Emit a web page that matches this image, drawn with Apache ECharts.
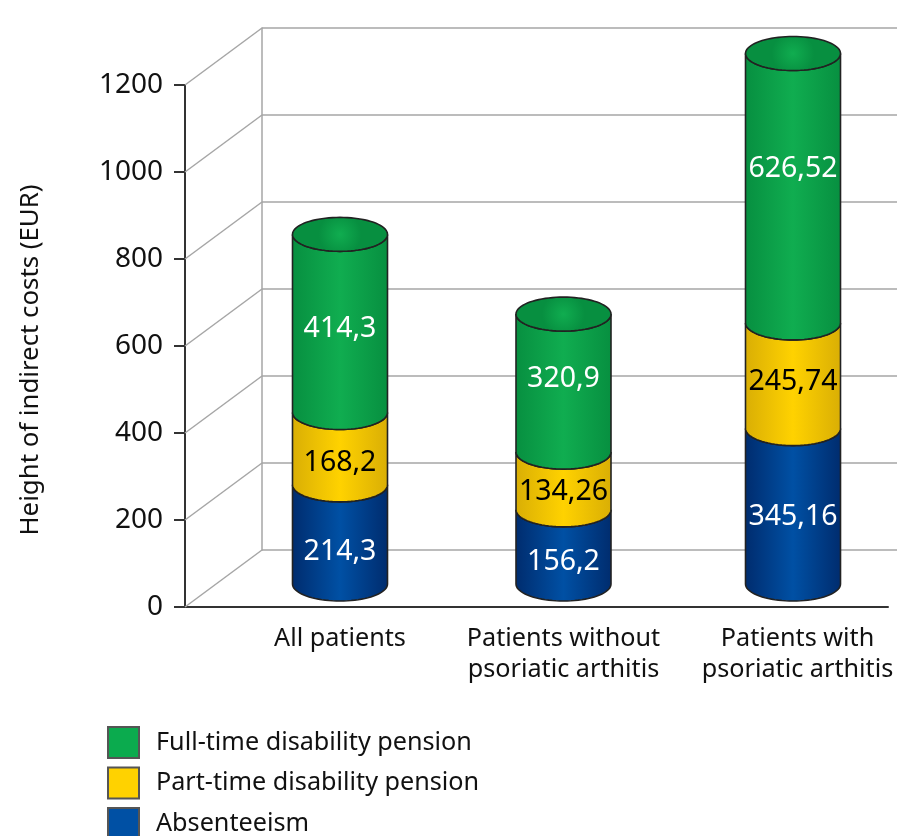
<!DOCTYPE html>
<html lang="en">
<head>
	<meta charset="UTF-8">
	<title>Indirect costs</title>
	<style type="text/css">
	body,html{
		width: 100%;
		height: 100%;
		margin: 0;
		padding: 0;
		background: #fff;
	}
	#container{
		width: 897px;
		height: 836px;
	}
	</style>
</head>
<body>
<div id="container"></div>
<script type="text/javascript" src="https://cdn.jsdelivr.net/npm/echarts@6/dist/echarts.min.js"></script>
<script type="text/javascript">
	var categories = ['All patients', 'Patients without\npsoriatic arthitis', 'Patients with\npsoriatic arthitis'];
	var absenteeism = [214.3, 156.2, 345.16];
	var partTime = [168.2, 134.26, 245.74];
	var fullTime = [414.3, 320.9, 626.52];
	var valueLabels = [
		['214,3', '156,2', '345,16'],
		['168,2', '134,26', '245,74'],
		['414,3', '320,9', '626,52']
	];
	var yTicks = [0, 200, 400, 600, 800, 1000, 1200];

	// layout only, the original has hand placed labels and slightly uneven columns
	var font = '"Noto Sans", sans-serif';
	var rx = 47.5, ry = 17, baseDrop = 7;
	var columnNudge = [0, -3, 0];
	var labelNudge = [
		[17, 15, 11],
		[14, 11, 6],
		[5, -4, -19]
	];
	var depthX = 77, depthY = -57;

	function shade(edge, mid) {
		return {
			type: 'linear', x: 0, y: 0, x2: 1, y2: 0,
			colorStops: [
				{offset: 0, color: edge},
				{offset: 0.5, color: mid},
				{offset: 1, color: edge}
			]
		};
	}

	function capShade(edge, mid) {
		return {
			type: 'radial', x: 0.5, y: 0.5, r: 0.6,
			colorStops: [
				{offset: 0, color: mid},
				{offset: 1, color: edge}
			]
		};
	}

	// half ellipse points, from the left side round the front to the right side
	function frontArc(cx, cy) {
		var pts = [];
		for (var i = 0; i <= 40; i++) {
			var a = Math.PI - Math.PI * i / 40;
			pts.push([cx + rx * Math.cos(a), cy + ry * Math.sin(a)]);
		}
		return pts;
	}

	function fullEllipse(cx, cy) {
		var pts = [];
		for (var i = 0; i < 80; i++) {
			var a = 2 * Math.PI * i / 80;
			pts.push([cx + rx * Math.cos(a), cy + ry * Math.sin(a)]);
		}
		return pts;
	}

	function makeCylinder(seriesIdx, edge, mid, textColor, isTop) {
		return function (params, api) {
			var idx = api.value(0);
			var lowP = api.coord([idx, api.value(1)]);
			var highP = api.coord([idx, api.value(2)]);
			var cx = lowP[0] + columnNudge[idx];
			var yLow = lowP[1] + (seriesIdx === 0 ? baseDrop : 0);
			var yHigh = highP[1];
			var body = frontArc(cx, yLow).concat(frontArc(cx, yHigh).reverse());
			var lineStyle = {stroke: '#222', lineWidth: 1.6};
			var children = [{
				type: 'polygon',
				shape: {points: body},
				style: Object.assign({fill: shade(edge, mid)}, lineStyle)
			}];
			if (isTop) {
				children.push({
					type: 'polygon',
					shape: {points: fullEllipse(cx, yHigh)},
					style: Object.assign({fill: capShade(edge, mid)}, lineStyle)
				});
			}
			children.push({
				type: 'text',
				style: {
					text: valueLabels[seriesIdx][idx],
					x: cx,
					y: (yLow + yHigh) / 2 + labelNudge[seriesIdx][idx],
					align: 'center',
					verticalAlign: 'middle',
					fill: textColor,
					font: '28.5px ' + font
				}
			});
			return {type: 'group', children: children};
		};
	}

	function stackRows(values, below) {
		return values.map(function (v, i) {
			return [i, below[i], below[i] + v];
		});
	}

	var base0 = [0, 0, 0];
	var base1 = absenteeism.slice();
	var base2 = absenteeism.map(function (v, i) { return v + partTime[i]; });

	function cylinderSeries(name, color, rows, renderItem) {
		return {
			name: name,
			type: 'custom',
			xAxisIndex: 2,
			yAxisIndex: 2,
			clip: false,
			silent: true,
			z: 5,
			itemStyle: {color: color, borderColor: '#555', borderWidth: 1.5},
			encode: {x: 0, y: [1, 2]},
			data: rows,
			renderItem: renderItem
		};
	}

	var option = {
		animation: false,
		backgroundColor: '#fff',
		textStyle: {fontFamily: font},
		legend: {
			left: 107,
			top: 726,
			height: 140,
			orient: 'vertical',
			itemWidth: 31,
			itemHeight: 31,
			itemGap: 7.5,
			padding: 0,
			selectedMode: false,
			icon: 'rect',
			data: ['Full-time disability pension', 'Part-time disability pension', 'Absenteeism'],
			textStyle: {fontSize: 25.2, color: '#111', fontFamily: font, padding: [0, 0, 0, 12]}
		},
		grid: [
			{left: 185, top: 85, width: 703, height: 522},   // front, labelled axes
			{left: 262, top: 28, width: 635, height: 522},   // back wall
			{left: 340, top: 61, width: 453, height: 516}    // columns
		],
		xAxis: [
			{
				gridIndex: 0, type: 'category', data: categories,
				axisLine: {lineStyle: {color: '#333', width: 2}},
				axisTick: {show: false}, axisLabel: {show: false}
			},
			{
				gridIndex: 1, type: 'category', data: categories,
				axisLine: {show: false}, axisTick: {show: false}, axisLabel: {show: false}
			},
			{
				gridIndex: 2, type: 'category', boundaryGap: false,
				data: [
					{value: categories[0]},
					{value: categories[1], textStyle: {padding: [0, 6, 0, 0]}},
					{value: categories[2], textStyle: {padding: [0, 0, 0, 9]}}
				],
				axisLine: {show: false}, axisTick: {show: false},
				axisLabel: {
					margin: 46, fontSize: 25.2, lineHeight: 31, color: '#111',
					fontFamily: font, interval: 0, hideOverlap: false,
					showMinLabel: true, showMaxLabel: true
				}
			}
		],
		yAxis: [
			{
				gridIndex: 0, type: 'value', min: 0, max: 1200, interval: 200,
				name: 'Height of indirect costs (EUR)',
				nameLocation: 'middle',
				nameGap: 141,
				nameTextStyle: {fontSize: 25.8, color: '#111', fontFamily: font, padding: [0, 28, 0, 0]},
				axisLine: {show: true, lineStyle: {color: '#333', width: 2}},
				axisTick: {show: true, length: 11, lineStyle: {color: '#333', width: 2}},
				axisLabel: {
					fontSize: 28, color: '#111', margin: 22, fontFamily: font,
					formatter: function (v) { return String(v); }
				},
				splitLine: {show: false}
			},
			{
				gridIndex: 1, type: 'value', min: 0, max: 1200, interval: 200,
				axisLine: {show: true, lineStyle: {color: '#a6a6a6', width: 1.5}},
				axisTick: {show: false}, axisLabel: {show: false},
				splitLine: {show: true, lineStyle: {color: '#a6a6a6', width: 1.5}}
			},
			{
				gridIndex: 2, type: 'value', min: 0, max: 1200, interval: 200,
				axisLine: {show: false}, axisTick: {show: false},
				axisLabel: {show: false}, splitLine: {show: false}
			}
		],
		series: [
			{
				// floor and wall diagonals, going back from each front tick
				type: 'custom',
				xAxisIndex: 0,
				yAxisIndex: 0,
				clip: false,
				silent: true,
				z: 1,
				encode: {y: 0},
				data: yTicks.map(function (t) { return [t]; }),
				renderItem: function (params, api) {
					var y = api.coord([0, api.value(0)])[1];
					var x = params.coordSys.x;
					return {
						type: 'line',
						shape: {x1: x, y1: y, x2: x + depthX, y2: y + depthY},
						style: {stroke: '#a6a6a6', lineWidth: 1.5}
					};
				}
			},
			cylinderSeries('Absenteeism', '#0050a4', stackRows(absenteeism, base0),
				makeCylinder(0, '#002c6e', '#0050a4', '#fff', false)),
			cylinderSeries('Part-time disability pension', '#ffd200', stackRows(partTime, base1),
				makeCylinder(1, '#d9ae05', '#ffd200', '#000', false)),
			cylinderSeries('Full-time disability pension', '#0bab4e', stackRows(fullTime, base2),
				makeCylinder(2, '#078f40', '#10ad50', '#fff', true))
		]
	};

	var chart = echarts.init(document.getElementById('container'));
	chart.setOption(option, true);
</script>
</body>
</html>
